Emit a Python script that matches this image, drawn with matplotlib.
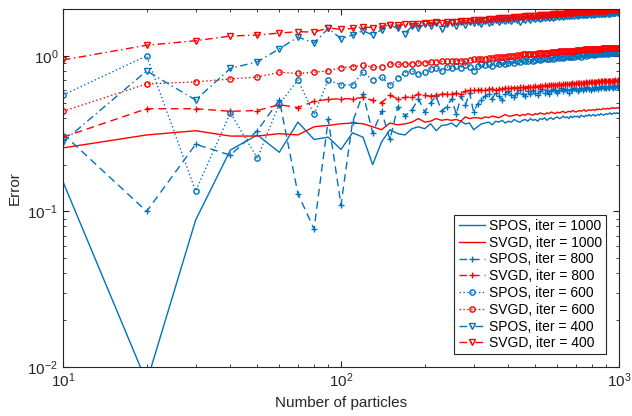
import numpy as np
import matplotlib
matplotlib.use('Agg')
import matplotlib.pyplot as plt

plt.rcParams['font.family'] = ['Liberation Sans', 'DejaVu Sans']
plt.rcParams['mathtext.default'] = 'regular'

# Number of particles: 10, 20, ..., 1000
n_particles = np.arange(10, 1001, 10)

# iter = 1000
spos_1000 = [
    0.155, 0.008, 0.088, 0.248, 0.31, 0.24, 0.375, 0.29, 0.30, 0.25,
    0.32, 0.30, 0.20, 0.28, 0.335, 0.316, 0.31, 0.34, 0.35, 0.34,
    0.366, 0.33, 0.357, 0.36, 0.37, 0.35, 0.38, 0.365, 0.37, 0.335,
    0.35, 0.365, 0.37, 0.375, 0.36, 0.38, 0.375, 0.385, 0.37, 0.38,
    0.375, 0.39, 0.38, 0.375, 0.385, 0.39, 0.38, 0.395, 0.385, 0.39,
    0.38, 0.395, 0.39, 0.40, 0.385, 0.395, 0.40, 0.39, 0.40, 0.405,
    0.395, 0.40, 0.41, 0.40, 0.405, 0.395, 0.41, 0.40, 0.41, 0.405,
    0.41, 0.40, 0.415, 0.41, 0.405, 0.415, 0.41, 0.42, 0.41, 0.415,
    0.42, 0.41, 0.415, 0.42, 0.415, 0.425, 0.42, 0.415, 0.42, 0.425,
    0.42, 0.425, 0.43, 0.42, 0.425, 0.43, 0.425, 0.43, 0.425, 0.43]
svgd_1000 = [
    0.256, 0.31, 0.33, 0.305, 0.305, 0.316, 0.31, 0.35, 0.357, 0.366,
    0.37, 0.366, 0.35, 0.335, 0.37, 0.36, 0.365, 0.375, 0.395, 0.375,
    0.38, 0.395, 0.385, 0.39, 0.385, 0.39, 0.38, 0.405, 0.395, 0.40,
    0.40, 0.395, 0.405, 0.40, 0.41, 0.405, 0.40, 0.41, 0.42, 0.41,
    0.41, 0.415, 0.42, 0.41, 0.42, 0.415, 0.425, 0.42, 0.415, 0.425,
    0.42, 0.43, 0.425, 0.42, 0.43, 0.425, 0.435, 0.43, 0.425, 0.435,
    0.43, 0.435, 0.44, 0.43, 0.435, 0.44, 0.435, 0.445, 0.44, 0.435,
    0.44, 0.445, 0.44, 0.445, 0.45, 0.44, 0.445, 0.45, 0.445, 0.45,
    0.45, 0.445, 0.455, 0.45, 0.455, 0.45, 0.455, 0.46, 0.455, 0.455,
    0.46, 0.455, 0.46, 0.46, 0.465, 0.46, 0.46, 0.465, 0.46, 0.465]

# iter = 800
spos_800 = [
    0.315, 0.10, 0.27, 0.23, 0.33, 0.52, 0.13, 0.077, 0.39, 0.11,
    0.375, 0.57, 0.32, 0.44, 0.29, 0.47, 0.41, 0.45, 0.53, 0.435,
    0.50, 0.55, 0.44, 0.47, 0.53, 0.42, 0.55, 0.48, 0.58, 0.435,
    0.49, 0.52, 0.55, 0.57, 0.53, 0.58, 0.55, 0.52, 0.57, 0.59,
    0.56, 0.54, 0.58, 0.60, 0.57, 0.55, 0.59, 0.57, 0.60, 0.58,
    0.56, 0.59, 0.61, 0.58, 0.60, 0.57, 0.59, 0.61, 0.60, 0.58,
    0.60, 0.62, 0.59, 0.61, 0.60, 0.58, 0.61, 0.60, 0.62, 0.61,
    0.59, 0.61, 0.62, 0.60, 0.62, 0.61, 0.63, 0.61, 0.60, 0.62,
    0.61, 0.63, 0.62, 0.61, 0.63, 0.62, 0.64, 0.62, 0.63, 0.62,
    0.63, 0.62, 0.64, 0.63, 0.62, 0.64, 0.63, 0.64, 0.63, 0.64]
svgd_800 = [
    0.30, 0.457, 0.457, 0.44, 0.445, 0.485, 0.465, 0.51, 0.525, 0.53,
    0.53, 0.54, 0.517, 0.50, 0.557, 0.53, 0.54, 0.545, 0.565, 0.557,
    0.55, 0.56, 0.565, 0.57, 0.565, 0.575, 0.57, 0.59, 0.60, 0.60,
    0.60, 0.605, 0.60, 0.61, 0.61, 0.605, 0.615, 0.61, 0.62, 0.62,
    0.62, 0.625, 0.62, 0.63, 0.63, 0.625, 0.635, 0.63, 0.635, 0.64,
    0.635, 0.64, 0.64, 0.645, 0.64, 0.645, 0.65, 0.645, 0.65, 0.65,
    0.655, 0.65, 0.655, 0.66, 0.655, 0.66, 0.66, 0.665, 0.66, 0.665,
    0.665, 0.67, 0.665, 0.67, 0.67, 0.675, 0.67, 0.675, 0.675, 0.68,
    0.675, 0.68, 0.68, 0.685, 0.68, 0.685, 0.685, 0.69, 0.685, 0.69,
    0.69, 0.685, 0.69, 0.69, 0.69, 0.69, 0.695, 0.69, 0.695, 0.69]

# iter = 600
spos_600 = [
    0.56, 1.00, 0.135, 0.43, 0.22, 0.49, 0.70, 0.42, 0.70, 0.65,
    0.65, 0.785, 0.70, 0.73, 0.645, 0.72, 0.78, 0.80, 0.76, 0.79,
    0.82, 0.84, 0.80, 0.85, 0.83, 0.86, 0.84, 0.87, 0.85, 0.80,
    0.86, 0.88, 0.87, 0.89, 0.86, 0.90, 0.88, 0.91, 0.89, 0.90,
    0.92, 0.90, 0.93, 0.91, 0.94, 0.92, 0.93, 0.95, 0.93, 0.94,
    0.96, 0.94, 0.95, 0.97, 0.95, 0.96, 0.98, 0.96, 0.97, 0.98,
    0.97, 0.99, 0.97, 0.98, 1.00, 0.98, 0.99, 1.00, 0.99, 1.01,
    1.00, 1.01, 0.99, 1.01, 1.02, 1.00, 1.02, 1.01, 1.02, 1.03,
    1.01, 1.03, 1.02, 1.03, 1.04, 1.02, 1.04, 1.03, 1.04, 1.05,
    1.03, 1.05, 1.04, 1.05, 1.06, 1.04, 1.06, 1.05, 1.06, 1.06]
svgd_600 = [
    0.44, 0.66, 0.68, 0.71, 0.73, 0.785, 0.77, 0.785, 0.80, 0.84,
    0.85, 0.87, 0.845, 0.85, 0.89, 0.88, 0.89, 0.89, 0.90, 0.90,
    0.91, 0.91, 0.92, 0.92, 0.92, 0.93, 0.93, 0.92, 0.94, 0.95,
    0.95, 0.96, 0.96, 0.97, 0.97, 0.98, 0.98, 0.99, 0.99, 1.00,
    1.00, 1.00, 1.01, 1.01, 1.02, 1.02, 1.02, 1.03, 1.03, 1.03,
    1.04, 1.04, 1.04, 1.05, 1.05, 1.05, 1.06, 1.06, 1.06, 1.06,
    1.07, 1.07, 1.07, 1.07, 1.08, 1.08, 1.08, 1.08, 1.08, 1.09,
    1.09, 1.09, 1.09, 1.09, 1.10, 1.10, 1.10, 1.10, 1.10, 1.10,
    1.11, 1.11, 1.11, 1.11, 1.11, 1.11, 1.12, 1.12, 1.12, 1.12,
    1.12, 1.12, 1.12, 1.13, 1.13, 1.13, 1.13, 1.13, 1.13, 1.13]

# iter = 400
spos_400 = [
    0.28, 0.80, 0.52, 0.83, 0.915, 1.11, 1.32, 1.21, 1.50, 1.29,
    1.36, 1.45, 1.36, 1.47, 1.58, 1.50, 1.39, 1.55, 1.50, 1.60,
    1.55, 1.62, 1.48, 1.60, 1.63, 1.55, 1.64, 1.58, 1.66, 1.62,
    1.65, 1.60, 1.68, 1.63, 1.66, 1.70, 1.64, 1.69, 1.67, 1.71,
    1.68, 1.72, 1.70, 1.66, 1.73, 1.71, 1.74, 1.70, 1.75, 1.72,
    1.75, 1.73, 1.76, 1.74, 1.77, 1.75, 1.78, 1.76, 1.77, 1.79,
    1.77, 1.80, 1.78, 1.80, 1.79, 1.81, 1.79, 1.82, 1.80, 1.82,
    1.81, 1.83, 1.82, 1.83, 1.82, 1.84, 1.83, 1.85, 1.84, 1.85,
    1.84, 1.86, 1.85, 1.86, 1.85, 1.87, 1.86, 1.87, 1.86, 1.88,
    1.87, 1.88, 1.87, 1.89, 1.88, 1.89, 1.88, 1.90, 1.89, 1.90]
svgd_400 = [
    0.94, 1.17, 1.25, 1.34, 1.36, 1.40, 1.43, 1.42, 1.51, 1.48,
    1.50, 1.53, 1.52, 1.55, 1.58, 1.57, 1.59, 1.60, 1.61, 1.62,
    1.63, 1.64, 1.63, 1.65, 1.66, 1.66, 1.67, 1.68, 1.68, 1.70,
    1.70, 1.71, 1.71, 1.72, 1.73, 1.73, 1.74, 1.74, 1.75, 1.76,
    1.76, 1.77, 1.77, 1.78, 1.78, 1.79, 1.79, 1.80, 1.80, 1.81,
    1.81, 1.82, 1.82, 1.83, 1.83, 1.84, 1.84, 1.85, 1.85, 1.86,
    1.86, 1.87, 1.87, 1.87, 1.88, 1.88, 1.89, 1.89, 1.89, 1.90,
    1.90, 1.90, 1.91, 1.91, 1.91, 1.92, 1.92, 1.92, 1.93, 1.93,
    1.93, 1.93, 1.94, 1.94, 1.94, 1.94, 1.95, 1.95, 1.95, 1.95,
    1.96, 1.96, 1.96, 1.96, 1.96, 1.97, 1.97, 1.97, 1.97, 1.97]

blue = '#0072BD'
red = '#FF0000'
dash = (0, (5.5, 3.5))
dot = (0, (1, 1.8))
dashdot = (0, (5.5, 2.5, 1, 2.5))

fig = plt.figure(figsize=(6.32, 4.16), dpi=100)
ax = fig.add_axes([0.0997, 0.1178, 0.8797, 0.8606])

ax.plot(n_particles, spos_1000, ls='-', color=blue, lw=1.0, label='SPOS, iter = 1000')
ax.plot(n_particles, svgd_1000, ls='-', color=red, lw=1.0, label='SVGD, iter = 1000')
ax.plot(n_particles, spos_800, ls=dash, marker='+', ms=4.5, mew=1, color=blue, lw=1.0,
        label='SPOS, iter = 800')
ax.plot(n_particles, svgd_800, ls=dash, marker='+', ms=4.5, mew=1, color=red, lw=1.0,
        label='SVGD, iter = 800')
ax.plot(n_particles, spos_600, ls=dot, marker='o', ms=3.8, mfc='none', mew=1, color=blue,
        lw=1.0, label='SPOS, iter = 600')
ax.plot(n_particles, svgd_600, ls=dot, marker='o', ms=3.8, mfc='none', mew=1, color=red,
        lw=1.0, label='SVGD, iter = 600')
ax.plot(n_particles, spos_400, ls=dashdot, marker='v', ms=4.8, mfc='none', mew=1,
        color=blue, lw=1.0, label='SPOS, iter = 400')
ax.plot(n_particles, svgd_400, ls=dashdot, marker='v', ms=4.8, mfc='none', mew=1,
        color=red, lw=1.0, label='SVGD, iter = 400')

ax.set_xscale('log')
ax.set_yscale('log')
ax.set_xlim(10, 1000)
ax.set_ylim(0.01, 2)
ax.set_xlabel('Number of particles', fontsize=11, color='#262626')
ax.set_ylabel('Error', fontsize=11, color='#262626')
ax.tick_params(which='both', direction='in', top=True, right=True, colors='#262626',
               labelsize=11)
ax.tick_params(which='major', length=4)
ax.tick_params(which='minor', length=2.5)
for s in ax.spines.values():
    s.set_color('#262626')
    s.set_linewidth(0.8)

leg = ax.legend(loc='lower right', fontsize=10, handlelength=1.9, labelspacing=0.2,
                borderaxespad=0.9, handletextpad=0.3, borderpad=0.3, fancybox=False,
                framealpha=1)
leg.get_frame().set_edgecolor('#262626')
leg.get_frame().set_linewidth(0.8)

fig.savefig('out.png', dpi=100)
